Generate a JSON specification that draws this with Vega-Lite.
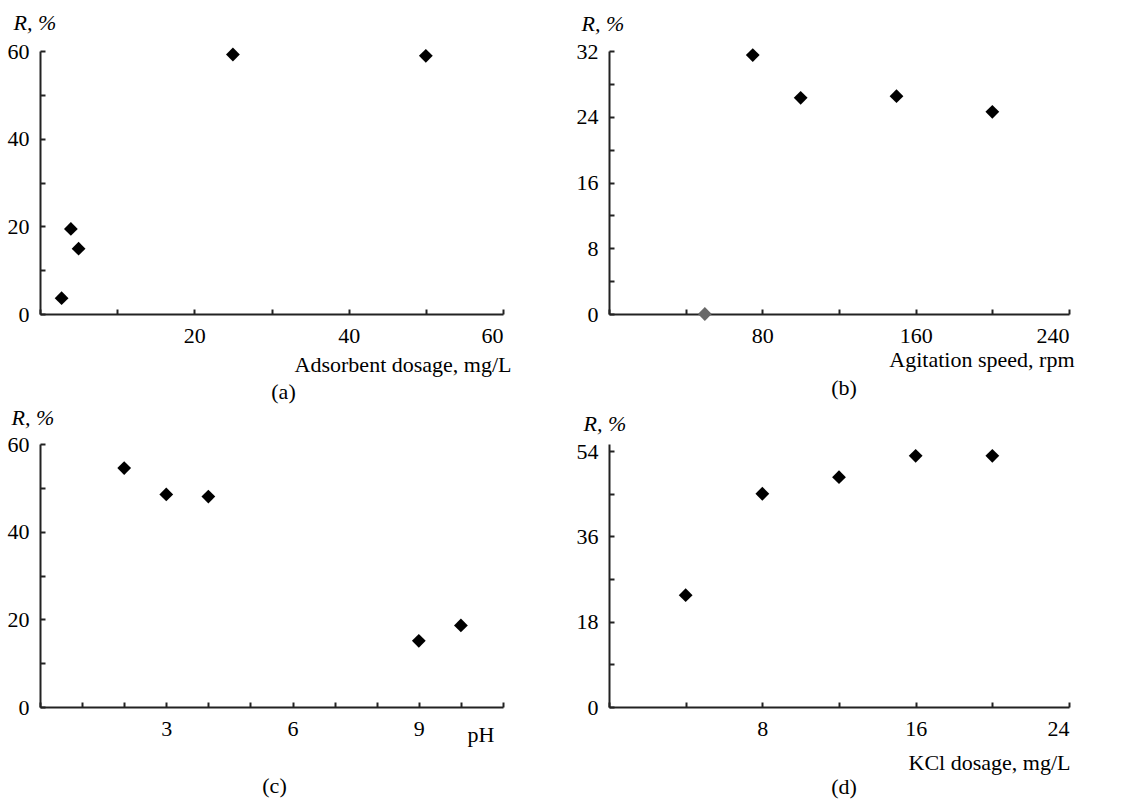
{
  "$schema": "https://vega.github.io/schema/vega-lite/v6.json",
  "background": "white",
  "padding": {"left": 7, "top": 11, "right": 5, "bottom": 2},
  "bounds": "flush",
  "columns": 2,
  "spacing": {"row": 130, "column": 106},
  "datasets": {
    "a": [
      {"dosage": 2.8, "R": 3.6},
      {"dosage": 4, "R": 19.4},
      {"dosage": 5, "R": 14.9},
      {"dosage": 25, "R": 59.2},
      {"dosage": 50, "R": 58.9}
    ],
    "b": [
      {"speed": 50, "R": 0},
      {"speed": 75, "R": 31.5},
      {"speed": 100, "R": 26.3},
      {"speed": 150, "R": 26.5},
      {"speed": 200, "R": 24.6}
    ],
    "c": [
      {"pH": 2, "R": 54.5},
      {"pH": 3, "R": 48.5},
      {"pH": 4, "R": 48.0},
      {"pH": 9, "R": 15.1},
      {"pH": 10, "R": 18.6}
    ],
    "d": [
      {"kcl": 4, "R": 23.6},
      {"kcl": 8, "R": 45.0},
      {"kcl": 12, "R": 48.5},
      {"kcl": 16, "R": 53.0},
      {"kcl": 20, "R": 53.0}
    ]
  },
  "concat": [
    {
      "width": 463, "height": 263,
      "data": {"name": "a"},
      "title": {"text": "(a)", "orient": "bottom", "anchor": "middle", "frame": "group", "dx": 12, "offset": 7},
      "mark": {"type": "point", "shape": "diamond", "filled": true, "size": 190, "opacity": 1},
      "encoding": {
        "x": {"field": "dosage", "type": "quantitative",
          "scale": {"domain": [0, 60], "nice": false},
          "axis": {"values": [0, 10, 20, 30, 40, 50, 60],
            "labelExpr": "datum.value % 20 == 0 && datum.value > 0 ? datum.label : ''",
            "title": "Adsorbent dosage, mg/L", "titleX": 471, "titleY": 57, "titleAlign": "right", "titleBaseline": "alphabetic"}},
        "y": {"field": "R", "type": "quantitative",
          "scale": {"domain": [0, 60], "nice": false},
          "axis": {"values": [0, 10, 20, 30, 40, 50, 60],
            "labelExpr": "datum.value % 20 == 0 ? datum.label : ''",
            "title": "R, %", "titleAngle": 0, "titleX": -27, "titleY": -22, "titleAlign": "left", "titleBaseline": "alphabetic", "titleFontStyle": "italic"}},
        "color": {"condition": {"test": "datum.R == 0", "value": "#686868"}, "value": "black"}
      }
    },
    {
      "width": 460, "height": 263,
      "data": {"name": "b"},
      "title": {"text": "(b)", "orient": "bottom", "anchor": "middle", "frame": "group", "dx": 5, "offset": 8},
      "mark": {"type": "point", "shape": "diamond", "filled": true, "size": 190, "opacity": 1},
      "encoding": {
        "x": {"field": "speed", "type": "quantitative",
          "scale": {"domain": [0, 240], "nice": false},
          "axis": {"values": [0, 40, 80, 120, 160, 200, 240],
            "labelExpr": "datum.value % 80 == 0 && datum.value > 0 ? datum.label : ''",
            "title": "Agitation speed, rpm", "titleX": 465, "titleY": 52, "titleAlign": "right", "titleBaseline": "alphabetic"}},
        "y": {"field": "R", "type": "quantitative",
          "scale": {"domain": [0, 32], "nice": false},
          "axis": {"values": [0, 4, 8, 12, 16, 20, 24, 28, 32],
            "labelExpr": "datum.value % 8 == 0 ? datum.label : ''",
            "title": "R, %", "titleAngle": 0, "titleX": -28, "titleY": -21, "titleAlign": "left", "titleBaseline": "alphabetic", "titleFontStyle": "italic"}},
        "color": {"condition": {"test": "datum.R == 0", "value": "#686868"}, "value": "black"}
      }
    },
    {
      "width": 463, "height": 263,
      "data": {"name": "c"},
      "title": {"text": "(c)", "orient": "bottom", "anchor": "middle", "frame": "group", "dx": 3, "offset": 31},
      "mark": {"type": "point", "shape": "diamond", "filled": true, "size": 190, "opacity": 1},
      "encoding": {
        "x": {"field": "pH", "type": "quantitative",
          "scale": {"domain": [0, 11], "nice": false},
          "axis": {"values": [0, 1, 2, 3, 4, 5, 6, 7, 8, 9, 10, 11],
            "labelExpr": "datum.value % 3 == 0 && datum.value > 0 ? datum.label : ''",
            "title": "pH", "titleX": 454, "titleY": 34, "titleAlign": "right", "titleBaseline": "alphabetic"}},
        "y": {"field": "R", "type": "quantitative",
          "scale": {"domain": [0, 60], "nice": false},
          "axis": {"values": [0, 10, 20, 30, 40, 50, 60],
            "labelExpr": "datum.value % 20 == 0 ? datum.label : ''",
            "title": "R, %", "titleAngle": 0, "titleX": -29, "titleY": -20, "titleAlign": "left", "titleBaseline": "alphabetic", "titleFontStyle": "italic"}},
        "color": {"condition": {"test": "datum.R == 0", "value": "#686868"}, "value": "black"}
      }
    },
    {
      "width": 460, "height": 263,
      "data": {"name": "d"},
      "title": {"text": "(d)", "orient": "bottom", "anchor": "middle", "frame": "group", "dx": 5, "offset": 4},
      "mark": {"type": "point", "shape": "diamond", "filled": true, "size": 190, "opacity": 1},
      "encoding": {
        "x": {"field": "kcl", "type": "quantitative",
          "scale": {"domain": [0, 24], "nice": false},
          "axis": {"values": [0, 4, 8, 12, 16, 20, 24],
            "labelExpr": "datum.value % 8 == 0 && datum.value > 0 ? datum.label : ''",
            "title": "KCl dosage, mg/L", "titleX": 461, "titleY": 62, "titleAlign": "right", "titleBaseline": "alphabetic"}},
        "y": {"field": "R", "type": "quantitative",
          "scale": {"domain": [0, 55.5], "nice": false},
          "axis": {"values": [0, 9, 18, 27, 36, 45, 54],
            "labelExpr": "datum.value % 18 == 0 ? datum.label : ''",
            "title": "R, %", "titleAngle": 0, "titleX": -26, "titleY": -14, "titleAlign": "left", "titleBaseline": "alphabetic", "titleFontStyle": "italic"}},
        "color": {"condition": {"test": "datum.R == 0", "value": "#686868"}, "value": "black"}
      }
    }
  ],
  "config": {
    "font": "Liberation Serif",
    "view": {"stroke": null},
    "title": {"font": "Liberation Serif", "fontSize": 22, "fontWeight": "normal", "color": "black"},
    "axis": {
      "grid": false,
      "domainColor": "#222222", "domainWidth": 2,
      "tickColor": "#222222", "tickWidth": 2, "tickSize": -5,
      "labelFont": "Liberation Serif", "labelFontSize": 22, "labelColor": "black",
      "titleFont": "Liberation Serif", "titleFontSize": 22, "titleFontWeight": "normal", "titleColor": "black"
    },
    "axisX": {"labelPadding": 16},
    "axisY": {"labelPadding": 16}
  }
}
